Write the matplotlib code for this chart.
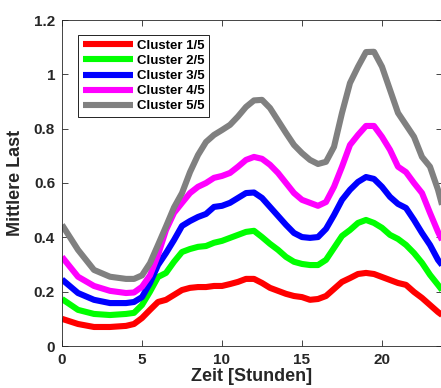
import matplotlib
matplotlib.use("Agg")
import matplotlib.pyplot as plt

plt.rcParams['font.family'] = ['Liberation Sans', 'DejaVu Sans']
plt.rcParams['font.weight'] = 'bold'

hours = [0, 1, 2, 3, 4, 4.5, 5, 5.5, 6, 6.5, 7, 7.5, 8, 8.5, 9, 9.5, 10, 10.5, 11, 11.5,
         12, 12.5, 13, 13.5, 14, 14.5, 15, 15.5, 16, 16.5, 17, 17.5, 18, 18.5, 19, 19.5,
         20, 20.5, 21, 21.5, 22, 22.5, 23, 23.5, 23.75]

cluster1 = [0.1, 0.081, 0.07, 0.07, 0.074, 0.081, 0.103, 0.133, 0.162, 0.17, 0.188, 0.206,
            0.214, 0.217, 0.217, 0.221, 0.221, 0.228, 0.236, 0.247, 0.247, 0.232, 0.214,
            0.203, 0.192, 0.184, 0.18, 0.17, 0.173, 0.184, 0.21, 0.236, 0.25, 0.265, 0.269,
            0.265, 0.254, 0.243, 0.232, 0.225, 0.199, 0.177, 0.151, 0.125, 0.114]
cluster2 = [0.173, 0.133, 0.118, 0.114, 0.118, 0.122, 0.151, 0.2, 0.254, 0.269, 0.31, 0.346,
            0.357, 0.365, 0.368, 0.38, 0.387, 0.398, 0.409, 0.42, 0.424, 0.401, 0.376, 0.354,
            0.328, 0.31, 0.302, 0.298, 0.298, 0.317, 0.361, 0.405, 0.427, 0.453, 0.464, 0.453,
            0.435, 0.409, 0.394, 0.372, 0.342, 0.306, 0.262, 0.225, 0.206]
cluster3 = [0.245, 0.195, 0.17, 0.158, 0.158, 0.162, 0.18, 0.232, 0.298, 0.342, 0.39, 0.442,
            0.46, 0.475, 0.486, 0.512, 0.516, 0.527, 0.545, 0.563, 0.565, 0.545, 0.512, 0.479,
            0.446, 0.416, 0.401, 0.398, 0.401, 0.431, 0.482, 0.538, 0.575, 0.604, 0.622, 0.615,
            0.586, 0.549, 0.523, 0.508, 0.464, 0.416, 0.372, 0.317, 0.298]
cluster4 = [0.328, 0.255, 0.221, 0.203, 0.195, 0.197, 0.218, 0.26, 0.335, 0.427, 0.49, 0.527,
            0.563, 0.586, 0.6, 0.619, 0.626, 0.637, 0.66, 0.685, 0.696, 0.689, 0.667, 0.637,
            0.6, 0.563, 0.538, 0.527, 0.516, 0.53, 0.586, 0.66, 0.74, 0.777, 0.81, 0.81, 0.77,
            0.722, 0.66, 0.64, 0.6, 0.563, 0.49, 0.42, 0.39]
cluster5 = [0.446, 0.354, 0.28, 0.255, 0.247, 0.247, 0.26, 0.305, 0.372, 0.44, 0.51, 0.563,
            0.64, 0.703, 0.751, 0.777, 0.795, 0.814, 0.845, 0.88, 0.904, 0.906, 0.876, 0.83,
            0.784, 0.74, 0.71, 0.685, 0.67, 0.678, 0.733, 0.858, 0.968, 1.028, 1.082, 1.083,
            1.028, 0.943, 0.858, 0.814, 0.77, 0.696, 0.66, 0.575, 0.52]

labels = ['Cluster 1/5', 'Cluster 2/5', 'Cluster 3/5', 'Cluster 4/5', 'Cluster 5/5']
colors = ['#ff0000', '#00ff00', '#0000ff', '#ff00ff', '#808080']
xticks = [0, 5, 10, 15, 20]
yticks = [0, 0.2, 0.4, 0.6, 0.8, 1, 1.2]
ytick_labels = ['0', '0.2', '0.4', '0.6', '0.8', '1', '1.2']

fig = plt.figure(figsize=(4.41, 3.88), dpi=100)
ax = fig.add_axes([62/441, 42/388, 380/441, 326/388])

for series, lab, col in zip([cluster1, cluster2, cluster3, cluster4, cluster5], labels, colors):
    ax.plot(hours, series, color=col, lw=4.4, label=lab,
            solid_capstyle='butt', solid_joinstyle='round')

ax.set_xlim(0, 23.75)
ax.set_ylim(0, 1.2)
ax.set_xticks(xticks)
ax.set_xticklabels([str(x) for x in xticks])
ax.set_yticks(yticks)
ax.set_yticklabels(ytick_labels)
ax.tick_params(direction='in', top=True, right=True, labelsize=11, length=4,
               width=0.6, colors='#262626', pad=5)
for s in ax.spines.values():
    s.set_color('#262626')
    s.set_linewidth(0.6)

ax.set_xlabel('Zeit [Stunden]', fontsize=13, fontweight='bold', color='#262626', labelpad=1)
ax.set_ylabel('Mittlere Last', fontsize=13, fontweight='bold', color='#262626', labelpad=7)

leg = ax.legend(loc='upper left', bbox_to_anchor=(0.042, 0.954), borderaxespad=0,
                fontsize=9.5, handlelength=3.8, handletextpad=0.3, labelspacing=0.22,
                borderpad=0.35, fancybox=False, framealpha=1, edgecolor='black')
leg.get_frame().set_linewidth(0.6)

fig.savefig('out.png', dpi=100)
